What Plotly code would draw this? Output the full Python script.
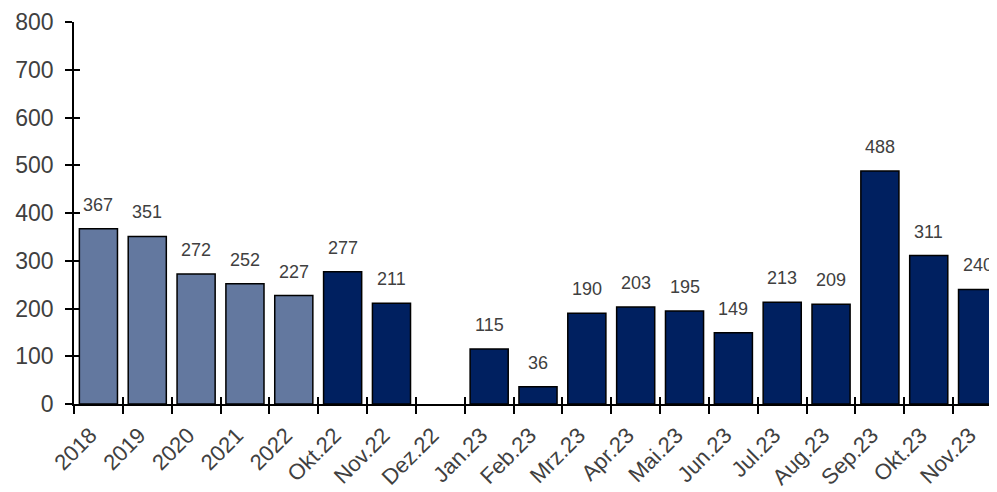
import plotly.graph_objects as go

categories = ["2018", "2019", "2020", "2021", "2022", "Okt.22", "Nov.22", "Dez.22",
              "Jan.23", "Feb.23", "Mrz.23", "Apr.23", "Mai.23", "Jun.23", "Jul.23",
              "Aug.23", "Sep.23", "Okt.23", "Nov.23"]
values = [367, 351, 272, 252, 227, 277, 211, None, 115, 36, 190, 203, 195, 149,
          213, 209, 488, 311, 240]
n_years = 5

light = "#63789F"
dark = "#002060"
colors = [light if i < n_years else dark for i in range(len(categories))]
FONT = "Liberation Sans, Arial"

fig = go.Figure()
fig.add_trace(go.Bar(
    x=categories, y=values, marker=dict(color=colors, line=dict(color="black", width=1.5)),
    width=0.78, hoverinfo="skip",
))
# dummy trace to create an overlay axis pair for crossing tick marks
fig.add_trace(go.Bar(x=categories, y=[None] * len(categories), xaxis="x2", yaxis="y2",
                     hoverinfo="skip", showlegend=False))

for i, v in enumerate(values):
    if v is None:
        continue
    fig.add_annotation(x=i, y=v, xref="x", yref="y", text=str(v), showarrow=False,
                       yanchor="bottom", yshift=12,
                       font=dict(family=FONT, size=18, color="#404040"))

xr = [-0.5, 18.5]
fig.update_layout(
    width=997, height=492, plot_bgcolor="white", paper_bgcolor="white",
    margin=dict(l=66, r=3, t=14, b=96), showlegend=False,
    font=dict(family=FONT, color="#404040"),
    xaxis=dict(
        type="category", tickson="boundaries", ticks="outside", ticklen=8, tickwidth=1.5,
        tickcolor="black", showline=True, linecolor="black", linewidth=1.5,
        tickangle=-45, tickfont=dict(family=FONT, size=22, color="#404040"), showgrid=False,
        range=xr, automargin=False, ticklabelstandoff=8, ticklabelshift=-8,
    ),
    yaxis=dict(
        range=[0, 800], dtick=100, ticks="outside", ticklen=7, tickwidth=1.5,
        tickcolor="black", showline=True, linecolor="black", linewidth=1.5,
        showgrid=False, zeroline=False, tickfont=dict(family=FONT, size=23, color="#404040"),
        automargin=False, ticklabelstandoff=7,
    ),
    xaxis2=dict(
        type="category", overlaying="x", tickson="boundaries", ticks="inside", ticklen=7,
        tickwidth=1.5, tickcolor="black", showticklabels=False, showgrid=False,
        range=xr, automargin=False, side="bottom", anchor="y2",
        categoryorder="array", categoryarray=categories,
    ),
    yaxis2=dict(
        overlaying="y", range=[0, 800], dtick=100, ticks="inside", ticklen=6,
        tickwidth=1.5, tickcolor="black", showticklabels=False, showgrid=False,
        zeroline=False, automargin=False, side="left", anchor="x2",
    ),
)

fig.write_html("out.html")
